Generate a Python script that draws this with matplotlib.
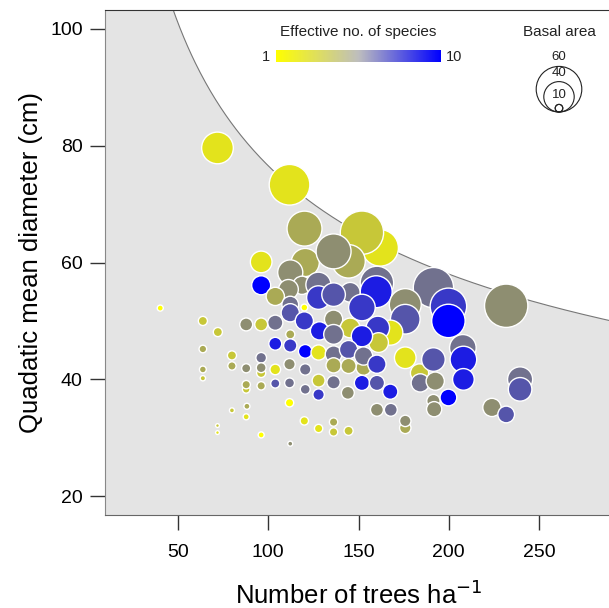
import numpy as np
import matplotlib
matplotlib.use('Agg')
from matplotlib import pyplot as plt
from matplotlib.colors import LinearSegmentedColormap
from matplotlib.patches import Circle

plt.rcParams['font.family'] = ['Liberation Sans', 'DejaVu Sans']

# stands, listed back to front
trees = [162.0, 151.9, 120.5, 120.1, 144.5, 136.2, 111.8, 71.9, 96.1, 112.2,
         118.7, 111.2, 96.1, 103.9, 160.2, 159.8, 145.4, 191.5, 199.8, 199.8,
         231.8, 175.9, 175.9, 127.8, 127.8, 136.2, 112.2, 112.2, 151.9, 136.2,
         120.0, 120.0, 145.4, 167.6, 160.7, 161.1, 128.4, 136.2, 151.9, 112.2,
         103.9, 96.1, 87.8, 63.8, 72.1, 40.2, 63.8, 63.8, 63.8, 79.9,
         79.9, 79.9, 88.2, 87.8, 71.9, 71.9, 96.1, 112.2, 87.8, 87.8,
         87.8, 96.1, 96.1, 96.1, 96.1, 103.9, 103.9, 111.8, 111.8, 111.8,
         120.5, 120.5, 103.9, 112.2, 120.5, 127.9, 136.2, 144.5, 152.8, 152.8,
         160.2, 136.2, 144.5, 127.9, 136.2, 127.9, 144.1, 151.9, 160.2, 167.6,
         160.2, 167.9, 175.9, 175.9, 144.5, 127.9, 136.2, 136.2, 120.0, 175.9,
         183.8, 184.2, 192.5, 191.5, 207.8, 208.1, 208.1, 191.5, 191.9, 199.8,
         239.5, 239.5, 223.9, 231.8]
qmd = [62.5, 65.1, 60.0, 65.8, 60.2, 61.9, 73.3, 79.6, 60.1, 58.3,
       56.1, 55.4, 56.1, 54.2, 56.5, 55.0, 54.9, 55.7, 52.5, 50.0,
       52.6, 52.8, 50.3, 56.2, 54.0, 54.5, 52.8, 51.4, 52.3, 50.3,
       50.0, 52.3, 48.8, 48.0, 48.8, 46.3, 48.3, 47.7, 47.4, 47.7,
       49.7, 49.4, 49.4, 50.0, 48.1, 52.2, 45.2, 41.7, 40.2, 44.1,
       42.3, 34.7, 35.4, 33.6, 32.1, 30.9, 30.5, 29.0, 38.3, 39.1,
       41.9, 38.9, 41.1, 43.7, 42.0, 41.7, 39.3, 39.4, 36.0, 42.6,
       41.7, 38.3, 46.1, 45.8, 44.8, 44.6, 44.3, 45.1, 42.0, 44.0,
       42.6, 42.4, 42.3, 39.8, 39.5, 37.4, 37.7, 39.4, 39.4, 37.9,
       34.8, 34.8, 31.7, 32.9, 31.2, 31.6, 31.0, 32.7, 32.9, 43.7,
       41.1, 39.4, 39.7, 43.4, 45.4, 43.4, 40.0, 36.3, 34.9, 36.9,
       40.0, 38.3, 35.2, 34.0]
basal = [48, 57, 37, 46, 44, 46, 53.5, 41.7, 28.5, 33,
         24, 26, 25, 24, 44, 42, 26, 53, 48, 44,
         57, 42, 39, 33, 31, 31, 22, 24, 35, 24,
         24, 9, 26, 33, 31, 26, 24, 26, 28, 12,
         20, 17, 17, 12, 12, 8, 10, 9, 7, 12,
         11, 6.6, 8, 8, 5, 5, 8, 6.6, 10, 11,
         12, 11, 12, 14, 13, 14, 12, 13, 11, 15,
         15, 13, 17, 17.5, 18, 20, 22, 24, 20, 24,
         24, 20, 20, 17, 17.5, 15, 17, 20, 20, 20,
         17, 17, 15, 15, 12, 11, 11, 11, 11, 28.5,
         24, 24, 24, 31, 35, 35, 28.5, 17.5, 20, 22,
         33, 31, 24, 22]
species = [2, 3, 4, 4, 4, 5, 2, 2, 2, 5,
           5, 5, 10, 4, 6, 9, 6, 6, 8, 10,
           5, 5, 7, 6, 8, 7, 6, 7, 8, 5,
           8, 1, 3, 2, 8, 3, 9, 6, 9, 4,
           6, 3, 5, 3, 3, 1, 4, 4, 3, 3,
           4, 3, 4, 2, 3, 2, 1, 5, 3, 4,
           5, 4, 3, 6, 5, 2, 7, 6, 1, 5,
           6, 6, 9, 8, 10, 2, 6, 7, 4, 6,
           8, 4, 4, 3, 6, 8, 5, 9, 7, 9,
           5, 6, 4, 5, 3, 2, 3, 4, 2, 2,
           3, 6, 5, 7, 6, 9, 9, 5, 5, 10,
           6, 7, 5, 7]

# limit line QMD = a * N^b
limit_a = 483
limit_b = -0.4

legend_ba = [60, 40, 10]

cmap = LinearSegmentedColormap.from_list('sp', ['#FFFF00', '#7F7F7F', '#0000FF'])
bar_cmap = LinearSegmentedColormap.from_list('bar', ['#FFFF00', '#BEBEBE', '#0000FF'])
px_per_ba = 0.76   # circle diameter in pixels per unit of basal area

fig = plt.figure(figsize=(6.09, 6.08), dpi=100)
ax = fig.add_axes([105/609, 1-515/608, (612-105)/609, (515-10)/608])

xs = np.linspace(9.6, 290.4, 400)
ax.fill_between(xs, 0, limit_a*xs**limit_b, color='#E4E4E4', lw=0, zorder=0)
ax.plot(xs, limit_a*xs**limit_b, color='#777777', lw=0.8, zorder=1)

size = (np.array(basal)*px_per_ba*0.72)**2
ax.scatter(trees, qmd, s=size, c=species, cmap=cmap, vmin=1, vmax=10,
           edgecolors='white', linewidths=1.0, zorder=2)

ax.set_xlim(9.6, 290.4)
ax.set_ylim(16.8, 103.2)
ax.set_xticks([50, 100, 150, 200, 250])
ax.set_yticks([20, 40, 60, 80, 100])
ax.tick_params(length=11, width=1, labelsize=14, color='#333333')
ax.tick_params(axis='x', pad=10)
ax.tick_params(axis='y', pad=5)
ax.spines['right'].set_visible(False)
ax.spines['top'].set_color('#333333')
ax.spines['left'].set_color('#888888')
ax.spines['bottom'].set_color('#666666')
ax.set_xlabel('Number of trees ha$^{-1}$', fontsize=18.5)
ax.set_ylabel('Quadatic mean diameter (cm)', fontsize=18.5)
ax.xaxis.set_label_coords(0.5, -0.129)
ax.yaxis.set_label_coords(-0.122, 0.5)

# legends drawn in pixel coordinates
ov = fig.add_axes([0, 0, 1, 1])
grad = np.linspace(1, 10, 256).reshape(1, -1)
ov.imshow(grad, extent=[276, 441, 62, 50], aspect='auto', cmap=bar_cmap)
ov.text(358, 32, 'Effective no. of species', ha='center', va='center', fontsize=11, color='#222222')
ov.text(270, 57, '1', ha='right', va='center', fontsize=10.5, color='#222222')
ov.text(446, 57, '10', ha='left', va='center', fontsize=10.5, color='#222222')
ov.text(559, 32, 'Basal area', ha='center', va='center', fontsize=11, color='#222222')
for b in legend_ba:
    r = b*px_per_ba/2
    ov.add_patch(Circle((559, 112-r), r, fill=False, ec='#222222', lw=0.8))
    ov.text(559, 112-2*r-9, str(b), ha='center', va='center', fontsize=9.5, color='#222222')
ov.add_patch(Circle((559, 112-3.8), 3.8, fill=False, ec='#222222', lw=0.8))
ov.set_xlim(0, 609)
ov.set_ylim(608, 0)
ov.axis('off')

plt.savefig('out.png', dpi=100)
